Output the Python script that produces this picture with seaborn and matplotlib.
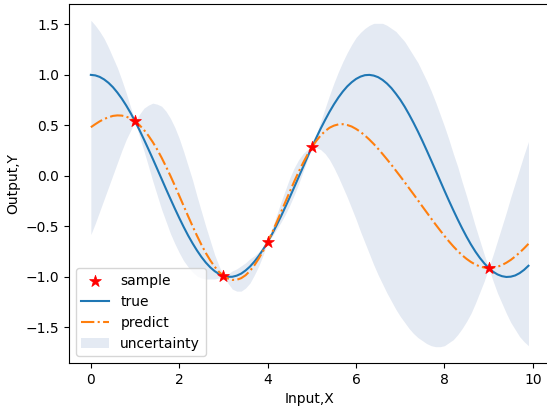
import pandas as pd
import seaborn as sns
import matplotlib
matplotlib.use("Agg")
import matplotlib.pyplot as plt

# training samples
sample_x = [1, 3, 4, 5, 9]
sample_y = [0.540, -0.990, -0.654, 0.284, -0.911]

# test grid 0.0 .. 9.9 in steps of 0.1
grid_x = [i / 10 for i in range(100)]
true_y = [1.000, 0.995, 0.980, 0.955, 0.921, 0.878, 0.825, 0.765, 0.697, 0.622,
          0.540, 0.454, 0.362, 0.267, 0.170, 0.071, -0.029, -0.129, -0.227, -0.323,
          -0.416, -0.505, -0.589, -0.666, -0.737, -0.801, -0.857, -0.904, -0.942, -0.971,
          -0.990, -0.999, -0.998, -0.987, -0.967, -0.936, -0.897, -0.848, -0.791, -0.726,
          -0.654, -0.575, -0.490, -0.401, -0.307, -0.211, -0.112, -0.012, 0.087, 0.187,
          0.284, 0.378, 0.469, 0.554, 0.635, 0.709, 0.776, 0.835, 0.886, 0.927,
          0.960, 0.983, 0.997, 1.000, 0.993, 0.977, 0.950, 0.914, 0.869, 0.814,
          0.754, 0.685, 0.608, 0.526, 0.439, 0.347, 0.251, 0.153, 0.054, -0.046,
          -0.146, -0.244, -0.339, -0.431, -0.519, -0.602, -0.679, -0.749, -0.811, -0.865,
          -0.911, -0.948, -0.975, -0.992, -1.000, -0.997, -0.985, -0.962, -0.930, -0.889]
pred_y = [0.482, 0.512, 0.540, 0.563, 0.581, 0.594, 0.599, 0.597, 0.587, 0.568,
          0.540, 0.503, 0.456, 0.400, 0.335, 0.262, 0.181, 0.093, 0.001, -0.096,
          -0.196, -0.297, -0.398, -0.496, -0.591, -0.680, -0.762, -0.835, -0.898, -0.950,
          -0.990, -1.016, -1.029, -1.028, -1.012, -0.983, -0.940, -0.884, -0.817, -0.740,
          -0.654, -0.560, -0.462, -0.361, -0.258, -0.156, -0.056, 0.039, 0.128, 0.210,
          0.284, 0.347, 0.401, 0.444, 0.477, 0.498, 0.510, 0.512, 0.504, 0.489,
          0.465, 0.436, 0.400, 0.360, 0.316, 0.268, 0.217, 0.164, 0.110, 0.053,
          -0.004, -0.062, -0.122, -0.181, -0.241, -0.302, -0.362, -0.422, -0.481, -0.538,
          -0.594, -0.647, -0.697, -0.743, -0.785, -0.821, -0.852, -0.877, -0.896, -0.907,
          -0.911, -0.908, -0.899, -0.882, -0.859, -0.831, -0.797, -0.759, -0.717, -0.672]
lower_y = [-0.58, -0.47, -0.35, -0.23, -0.11, 0.01, 0.13, 0.25, 0.36, 0.45,
           0.54, 0.39, 0.25, 0.10, -0.05, -0.19, -0.33, -0.45, -0.57, -0.67,
           -0.76, -0.84, -0.90, -0.95, -0.99, -1.01, -1.02, -1.02, -1.02, -1.01,
           -0.99, -1.06, -1.12, -1.14, -1.14, -1.11, -1.06, -0.98, -0.89, -0.78,
           -0.65, -0.60, -0.53, -0.46, -0.38, -0.29, -0.19, -0.08, 0.04, 0.16,
           0.28, 0.28, 0.26, 0.22, 0.16, 0.08, -0.01, -0.11, -0.21, -0.32,
           -0.43, -0.55, -0.66, -0.77, -0.88, -0.98, -1.07, -1.16, -1.24, -1.32,
           -1.39, -1.45, -1.51, -1.56, -1.60, -1.63, -1.66, -1.68, -1.69, -1.69,
           -1.68, -1.65, -1.62, -1.57, -1.51, -1.44, -1.36, -1.26, -1.15, -1.04,
           -0.91, -1.04, -1.16, -1.26, -1.36, -1.45, -1.52, -1.59, -1.64, -1.68]
upper_y = [1.54, 1.49, 1.43, 1.36, 1.27, 1.17, 1.07, 0.95, 0.82, 0.68,
           0.54, 0.61, 0.67, 0.70, 0.72, 0.71, 0.69, 0.64, 0.57, 0.48,
           0.37, 0.24, 0.10, -0.04, -0.20, -0.35, -0.50, -0.64, -0.78, -0.89,
           -0.99, -0.97, -0.94, -0.92, -0.89, -0.86, -0.82, -0.79, -0.75, -0.70,
           -0.65, -0.52, -0.39, -0.26, -0.14, -0.02, 0.08, 0.16, 0.22, 0.26,
           0.28, 0.41, 0.54, 0.67, 0.80, 0.92, 1.03, 1.13, 1.22, 1.30,
           1.37, 1.42, 1.46, 1.49, 1.51, 1.51, 1.51, 1.49, 1.46, 1.43,
           1.38, 1.33, 1.26, 1.19, 1.12, 1.03, 0.94, 0.84, 0.73, 0.61,
           0.49, 0.36, 0.22, 0.09, -0.06, -0.20, -0.35, -0.50, -0.64, -0.78,
           -0.91, -0.78, -0.64, -0.50, -0.36, -0.21, -0.07, 0.07, 0.21, 0.34]


def main():
    df = pd.DataFrame({'x': grid_x, 'true': true_y, 'predict': pred_y,
                       'lower': lower_y, 'upper': upper_y})
    samples = pd.DataFrame({'x': sample_x, 'y': sample_y})

    fig = plt.figure(figsize=(5.47, 4.12), dpi=100)
    ax = fig.add_axes([0.1261, 0.1189, 0.880, 0.8714])

    fill_color = sns.color_palette('deep')[0]
    ax.fill_between(df['x'], df['lower'], df['upper'], color=fill_color,
                    alpha=0.15, linewidth=0, label='uncertainty')
    sns.scatterplot(x='x', y='y', data=samples, ax=ax, marker='*', s=80,
                    color='red', edgecolor='red', linewidth=0.5, label='sample', zorder=4)
    sns.lineplot(x='x', y='true', data=df, ax=ax, color='#1f77b4',
                 linewidth=1.5, label='true')
    sns.lineplot(x='x', y='predict', data=df, ax=ax, color='#ff7f0e',
                 linewidth=1.5, linestyle='-.', label='predict')

    handles, labels = ax.get_legend_handles_labels()
    order = [labels.index(n) for n in ['sample', 'true', 'predict', 'uncertainty']]
    ax.legend([handles[i] for i in order], [labels[i] for i in order],
              loc='lower left', scatterpoints=1)

    ax.set_xticks([0, 2, 4, 6, 8, 10])
    ax.set_xlabel('Input,X')
    ax.set_ylabel('Output,Y')

    fig.savefig('out.png', dpi=100)


if __name__ == "__main__":
    main()
